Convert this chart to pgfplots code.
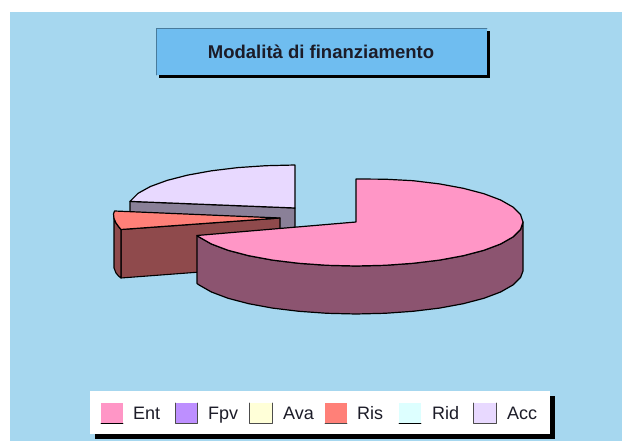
\documentclass[border=0pt]{standalone}
\usepackage{pgfplots}
\pgfplotsset{compat=1.18}
\usepackage{fontspec}
\setmainfont{Liberation Sans}
\definecolor{bg}{HTML}{A6D7EF}
\definecolor{titlefill}{HTML}{6FBDF0}
\definecolor{enttop}{HTML}{FF96C6}
\definecolor{entwall}{HTML}{8C5470}
\definecolor{acctop}{HTML}{E8D9FF}
\definecolor{accwall}{HTML}{8A8098}
\definecolor{ristop}{HTML}{FF8078}
\definecolor{riswall}{HTML}{8F4A4C}
\definecolor{fpv}{HTML}{BD8FFF}
\definecolor{ava}{HTML}{FFFFD8}
\definecolor{rid}{HTML}{DDFFFF}
\definecolor{txt}{HTML}{1C1C28}
\begin{document}
\begin{tikzpicture}
\begin{axis}[
  scale only axis, width=622pt, height=441pt,
  xmin=0, xmax=622, ymin=0, ymax=441, y dir=reverse,
  hide axis, clip=true,
  every axis plot/.append style={line join=round, line cap=round},
]
% background
\addplot[fill=white, draw=none] coordinates {(0,0)(622,0)(622,441)(0,441)} -- cycle;
\addplot[fill=bg, draw=none] coordinates {(10,12)(622,12)(622,441)(10,441)} -- cycle;
% title box
\addplot[fill=black, draw=none] coordinates {(159,31)(490,31)(490,78)(159,78)} -- cycle;
\addplot[fill=titlefill, draw=none] coordinates {(156,28)(487,28)(487,75)(156,75)} -- cycle;
\addplot[draw=black!35!titlefill, line width=0.8pt] coordinates {(156,75)(156,28)(487,28)};
% Acc slice
\addplot[fill=accwall, draw=black, line width=1.1pt] coordinates {(130,201.4)(295,208)(295,250)(130,250)} -- cycle;
\addplot[fill=acctop, draw=black, line width=1.2pt] coordinates {(295,208)(130,201.4)(138.1,193.3)(150.4,186.5)(167.1,180.4)(187.7,175.1)(211.5,170.8)(237.9,167.6)(266,165.7)(295,165)} -- cycle;
% Ris slice
\addplot[fill=riswall, draw=black, line width=1.1pt] coordinates {(121,229.5)(280,218)(280,266)(121,278)} -- cycle;
\addplot[fill=riswall, draw=black, line width=1.1pt] coordinates {(114,214)(114,218.5)(116,223)(118.5,226.5)(121,229.5)(121,278)(118.5,276)(116,273)(114,268)} -- cycle;
\addplot[fill=ristop, draw=black, line width=1.2pt] coordinates {(280,218)(114.5,211)(113.5,214)(114,218.5)(116,223)(118.5,226.5)(121,229.5)} -- cycle;
% Ent slice
\addplot[fill=entwall, draw=black, line width=1.2pt] coordinates {(523,222)(520.5,229.6)(512.9,237.0)(500.6,244.0)(483.9,250.3)(463.3,255.7)(439.5,260.1)(413.1,263.3)(385.0,265.3)(356,266)(327.0,265.3)(298.9,263.3)(272.5,260.1)(248.7,255.7)(228.1,250.3)(211.4,244.0)(199.1,237.0)(197,235.5)(197,283.5)(199.1,285.0)(211.4,292.0)(228.1,298.3)(248.7,303.7)(272.5,308.1)(298.9,311.3)(327.0,313.3)(356,314)(385.0,313.3)(413.1,311.3)(439.5,308.1)(463.3,303.7)(483.9,298.3)(500.6,292.0)(512.9,285.0)(520.5,277.6)(523,271)} -- cycle;
\addplot[fill=enttop, draw=black, line width=1.2pt] coordinates {(356,222)(356,179)(385.0,179.2)(413.1,180.7)(439.5,183.9)(463.3,188.3)(483.9,193.7)(500.6,200.0)(512.9,207.0)(520.5,214.4)(523,222)(520.5,229.6)(512.9,237.0)(500.6,244.0)(483.9,250.3)(463.3,255.7)(439.5,260.1)(413.1,263.3)(385.0,265.3)(356,266)(327.0,265.3)(298.9,263.3)(272.5,260.1)(248.7,255.7)(228.1,250.3)(211.4,244.0)(199.1,237.0)(197,235.5)} -- cycle;
% legend box
\addplot[fill=black, draw=none] coordinates {(95,396)(555,396)(555,439)(95,439)} -- cycle;
\addplot[fill=white, draw=none] coordinates {(90,391)(550,391)(550,434)(90,434)} -- cycle;
% legend swatches
\addplot[fill=enttop, draw=none] coordinates {(101,403)(123,403)(123,423)(101,423)} -- cycle;
\addplot[draw=black, line width=0.7pt] coordinates {(101,423)(123,423)};
\addplot[fill=fpv, draw=none] coordinates {(175,403)(197,403)(197,423)(175,423)} -- cycle;
\addplot[draw=black!70, line width=0.7pt] coordinates {(175,403)(175,423)(197,423)(197,403)};
\addplot[fill=ava, draw=none] coordinates {(249,403)(272,403)(272,423)(249,423)} -- cycle;
\addplot[draw=black!70, line width=0.7pt] coordinates {(249,403)(249,423)(272,423)(272,403)};
\addplot[fill=ristop, draw=none] coordinates {(325,403)(347,403)(347,423)(325,423)} -- cycle;
\addplot[draw=black!70, line width=0.7pt] coordinates {(325,423)(347,423)};
\addplot[fill=rid, draw=none] coordinates {(399,403)(421,403)(421,423)(399,423)} -- cycle;
\addplot[draw=black, line width=0.7pt] coordinates {(399,423)(421,423)};
\addplot[fill=acctop, draw=none] coordinates {(473,403)(496,403)(496,423)(473,423)} -- cycle;
\addplot[draw=black!70, line width=0.7pt] coordinates {(473,403)(473,423)(496,423)(496,403)};
% texts
\node[anchor=center, text=txt, font=\fontsize{18.5}{22}\selectfont\bfseries] at (axis cs:321,52) {Modalità di finanziamento};
\foreach \xx/\tt in {133/Ent,208/Fpv,283/Ava,357/Ris,432/Rid,507/Acc}{
  \edef\temp{\noexpand\node[anchor=base west, inner sep=0pt, text=txt, font=\noexpand\fontsize{18}{20}\noexpand\selectfont] at (axis cs:\xx,419) {\tt};}
  \temp
}
\end{axis}
\end{tikzpicture}
\end{document}
